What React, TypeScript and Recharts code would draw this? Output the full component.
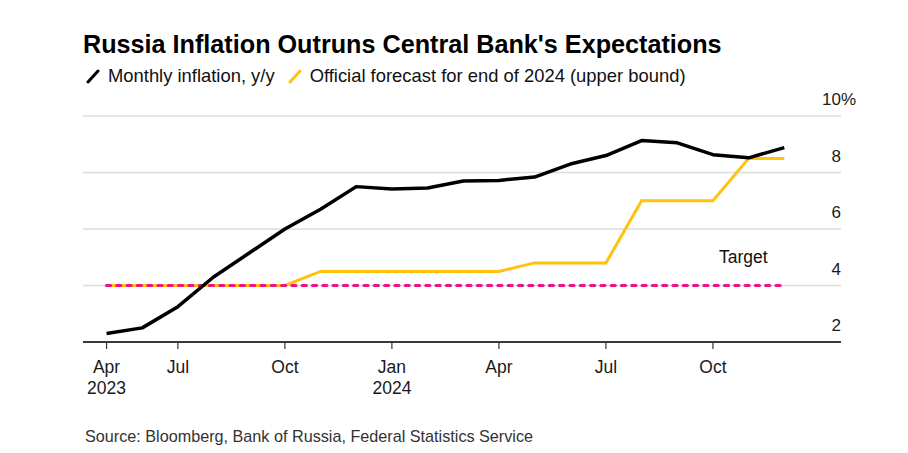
import React from 'react';
import { LineChart, Line, XAxis, YAxis, CartesianGrid, ReferenceDot } from 'recharts';

const months = [
  'Apr 2023', 'May 2023', 'Jun 2023', 'Jul 2023', 'Aug 2023', 'Sep 2023', 'Oct 2023', 'Nov 2023', 'Dec 2023',
  'Jan 2024', 'Feb 2024', 'Mar 2024', 'Apr 2024', 'May 2024', 'Jun 2024', 'Jul 2024', 'Aug 2024', 'Sep 2024',
  'Oct 2024', 'Nov 2024',
];
const inflation = [2.3, 2.5, 3.25, 4.3, 5.15, 6.0, 6.7, 7.5, 7.42, 7.45, 7.7, 7.72, 7.84, 8.3, 8.6, 9.13, 9.05, 8.63, 8.52, 8.88];
const forecast = [4, 4, 4, 4, 4, 4, 4.5, 4.5, 4.5, 4.5, 4.5, 4.5, 4.8, 4.8, 4.8, 7.0, 7.0, 7.0, 8.5, 8.5];
const target = [4, 4, 4, 4, 4, 4, 4, 4, 4, 4, 4, 4, 4, 4, 4, 4, 4, 4, 4, 4];

const tickIndex = [0, 2, 5, 8, 11, 14, 17];
const tickMonth = ['Apr', 'Jul', 'Oct', 'Jan', 'Apr', 'Jul', 'Oct'];
const tickYear = ['2023', '', '', '2024', '', '', ''];
const yTicks = [2, 4, 6, 8, 10];

const title = "Russia Inflation Outruns Central Bank's Expectations";
const legendItems = [
  { label: 'Monthly inflation, y/y', color: '#000000' },
  { label: 'Official forecast for end of 2024 (upper bound)', color: '#FFC20E' },
];
const source = 'Source: Bloomberg, Bank of Russia, Federal Statistics Service';

const data = months.map((m, i) => ({
  idx: i,
  month: m,
  inflation: inflation[i],
  forecast: forecast[i],
  target: target[i],
}));

const FONT = '"Liberation Sans", Arial, Helvetica, sans-serif';

const XTick = (props: any) => {
  const { x, y, payload } = props;
  const i = tickIndex.indexOf(payload.value);
  return (
    <g>
      <text x={x} y={y + 22} textAnchor="middle" fontSize={17.5} fill="#1a1a1a" fontFamily={FONT}>
        {tickMonth[i]}
      </text>
      {tickYear[i] ? (
        <text x={x} y={y + 43} textAnchor="middle" fontSize={17.5} fill="#1a1a1a" fontFamily={FONT}>
          {tickYear[i]}
        </text>
      ) : null}
    </g>
  );
};

const YTick = (props: any) => {
  const { x, y, payload } = props;
  return (
    <g>
      <text x={x} y={y - 11} textAnchor="end" fontSize={17} fill="#1a1a1a" fontFamily={FONT}>
        {payload.value}
      </text>
      {payload.value === 10 ? (
        <text x={x} y={y - 11} textAnchor="start" fontSize={17} fill="#1a1a1a" fontFamily={FONT}>
          %
        </text>
      ) : null}
    </g>
  );
};

export default function App() {
  return (
    <div
      style={{
        position: 'absolute',
        left: 0,
        top: 0,
        width: 908,
        height: 453,
        background: '#ffffff',
        fontFamily: FONT,
        overflow: 'hidden',
      }}
    >
      <div
        style={{
          position: 'absolute',
          left: 83,
          top: 28,
          fontSize: 25.2,
          fontWeight: 700,
          color: '#000',
          whiteSpace: 'nowrap',
          lineHeight: '32px',
        }}
      >
        {title}
      </div>
      <div
        style={{
          position: 'absolute',
          left: 86,
          top: 64,
          display: 'flex',
          alignItems: 'center',
          fontSize: 18.4,
          color: '#111',
          whiteSpace: 'nowrap',
          lineHeight: '24px',
        }}
      >
        {legendItems.map((it, k) => (
          <div key={k} style={{ display: 'flex', alignItems: 'center', marginRight: 13 }}>
            <svg width={14} height={16} style={{ marginRight: 8 }}>
              <line x1={2} y1={14} x2={12} y2={3} stroke={it.color} strokeWidth={3} strokeLinecap="round" />
            </svg>
            <span>{it.label}</span>
          </div>
        ))}
      </div>

      <div style={{ position: 'absolute', left: 0, top: 0 }}>
        <LineChart
          width={908}
          height={453}
          data={data}
          margin={{ top: 116, right: 66, bottom: 0, left: 83 }}
        >
          <CartesianGrid horizontal={true} vertical={false} stroke="#dcdcdc" strokeWidth={1.5} />
          <XAxis
            dataKey="idx"
            type="number"
            domain={[-0.66, 20.59]}
            ticks={tickIndex}
            interval={0}
            height={111}
            axisLine={{ stroke: '#000', strokeWidth: 1.5 }}
            tickLine={{ stroke: '#333', strokeWidth: 1.2 }}
            tickSize={7}
            tick={<XTick />}
            allowDataOverflow
          />
          <YAxis
            orientation="right"
            type="number"
            domain={[2, 10]}
            ticks={yTicks}
            width={1}
            axisLine={false}
            tickLine={false}
            tickSize={0}
            tickMargin={0}
            tick={<YTick />}
            allowDataOverflow
          />
          <Line
            type="linear"
            dataKey="forecast"
            stroke="#FFC20E"
            strokeWidth={3}
            dot={false}
            activeDot={false}
            isAnimationActive={false}
            strokeLinejoin="miter"
          />
          <Line
            type="linear"
            dataKey="target"
            stroke="#EE1289"
            strokeWidth={3.2}
            strokeDasharray="4 6.3"
            strokeLinecap="round"
            dot={false}
            activeDot={false}
            isAnimationActive={false}
          />
          <Line
            type="linear"
            dataKey="inflation"
            stroke="#000000"
            strokeWidth={3.5}
            dot={false}
            activeDot={false}
            isAnimationActive={false}
            strokeLinejoin="round"
          />
          <ReferenceDot
            x={17.85}
            y={5.02}
            r={0}
            fill="none"
            stroke="none"
            label={{ value: 'Target', position: 'center', fontSize: 17.5, fill: '#111', fontFamily: FONT }}
          />
        </LineChart>
      </div>

      <div
        style={{
          position: 'absolute',
          left: 85,
          top: 426,
          fontSize: 16.2,
          color: '#333',
          whiteSpace: 'nowrap',
          lineHeight: '20px',
        }}
      >
        {source}
      </div>
    </div>
  );
}
